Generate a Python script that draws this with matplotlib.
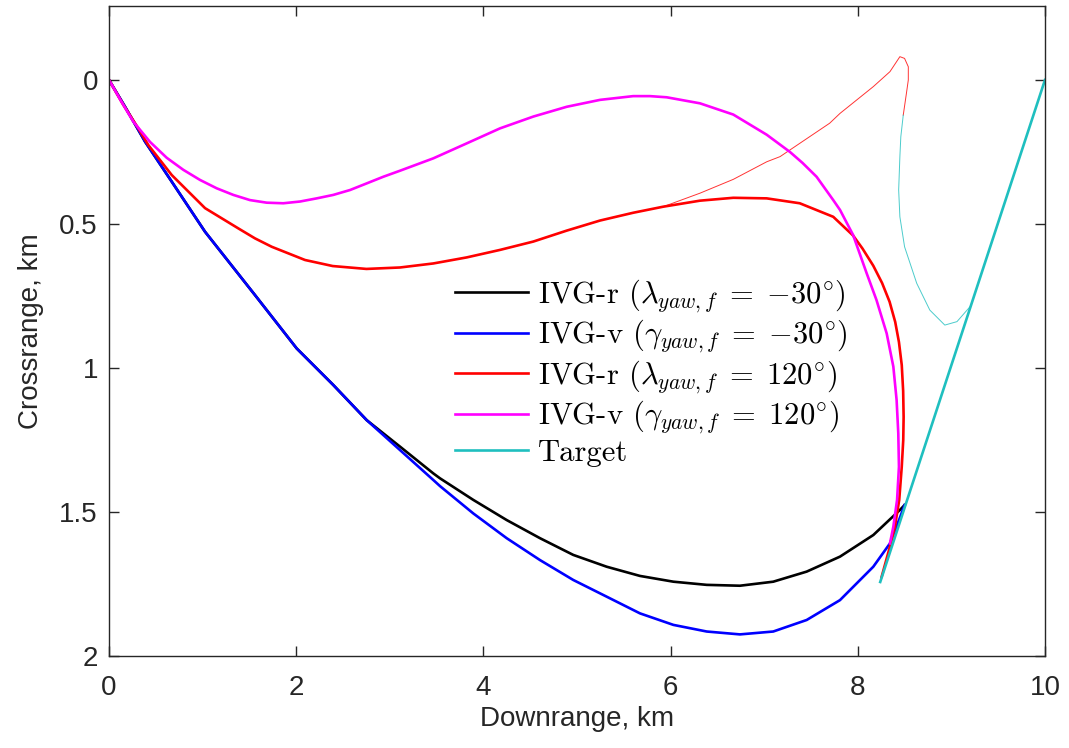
import matplotlib
matplotlib.use("Agg")
import matplotlib.pyplot as plt
from matplotlib.lines import Line2D

# ---- data (km) ----
black_x = [0, 0.171, 0.385, 0.67, 1.026, 1.56, 2.005, 2.396, 2.753, 3.109, 3.465, 3.536,
           3.892, 4.249, 4.605, 4.96, 5.317, 5.673, 6.03, 6.386, 6.741, 7.097, 7.454, 7.81,
           8.166, 8.45, 8.50]
black_y = [0, 0.093, 0.214, 0.353, 0.527, 0.747, 0.932, 1.059, 1.181, 1.273, 1.366, 1.383,
           1.458, 1.528, 1.591, 1.649, 1.69, 1.722, 1.742, 1.753, 1.756, 1.742, 1.707, 1.655,
           1.58, 1.493, 1.476]

blue_x = [0, 0.171, 0.385, 0.67, 1.026, 1.56, 2.005, 2.396, 2.753, 3.109, 3.465, 3.536,
          3.892, 4.249, 4.605, 4.96, 5.317, 5.673, 6.03, 6.386, 6.741, 7.097, 7.454, 7.81,
          8.166, 8.344, 8.45, 8.50]
blue_y = [0, 0.093, 0.214, 0.353, 0.527, 0.747, 0.932, 1.059, 1.181, 1.285, 1.389, 1.41,
          1.505, 1.591, 1.667, 1.736, 1.794, 1.852, 1.892, 1.915, 1.925, 1.915, 1.875, 1.806,
          1.69, 1.609, 1.52, 1.476]

red_x = [0, 0.15, 0.313, 0.42, 0.67, 1.026, 1.38, 1.56, 1.738, 2.094, 2.39, 2.75, 3.109, 3.465,
         3.822, 4.177, 4.533, 4.89, 5.246, 5.60, 5.92, 6.314, 6.67, 7.027, 7.38, 7.738, 7.95,
         8.05, 8.166, 8.26, 8.34, 8.40, 8.44, 8.47, 8.485, 8.49, 8.486, 8.47, 8.443, 8.397,
         8.344, 8.255]
red_y = [0, 0.085, 0.168, 0.226, 0.33, 0.445, 0.515, 0.55, 0.579, 0.625, 0.646, 0.656, 0.651, 0.637,
         0.616, 0.59, 0.561, 0.523, 0.488, 0.461, 0.44, 0.419, 0.409, 0.411, 0.428, 0.475, 0.54,
         0.585, 0.645, 0.705, 0.77, 0.84, 0.91, 0.99, 1.08, 1.17, 1.25, 1.343, 1.458, 1.551,
         1.62, 1.725]

mag_x = [0, 0.13, 0.26, 0.438, 0.616, 0.794, 0.972, 1.15, 1.328, 1.506, 1.685, 1.862, 2.04, 2.219,
         2.396, 2.575, 2.753, 2.93, 3.109, 3.465, 3.822, 4.177, 4.533, 4.89, 5.246, 5.60, 5.78,
         5.958, 6.314, 6.67, 7.027, 7.276, 7.41, 7.56, 7.738, 7.81, 7.95, 8.095, 8.2, 8.309,
         8.38, 8.415, 8.433, 8.44, 8.42, 8.38, 8.344]
mag_y = [0, 0.074, 0.145, 0.215, 0.27, 0.312, 0.347, 0.376, 0.399, 0.417, 0.426, 0.428, 0.422, 0.411,
         0.399, 0.382, 0.359, 0.336, 0.315, 0.272, 0.220, 0.168, 0.127, 0.093, 0.069, 0.056, 0.056,
         0.060, 0.081, 0.12, 0.19, 0.25, 0.288, 0.336, 0.417, 0.451, 0.538, 0.671, 0.764, 0.88,
         0.995, 1.111, 1.227, 1.343, 1.458, 1.551, 1.609]

target_x = [10.0, 8.24]
target_y = [0.0, 1.743]

# thin relative-trajectory segments
thin_red_x = [5.92, 6.314, 6.67, 7.027, 7.17, 7.38, 7.70, 7.81, 7.99, 8.166, 8.344, 8.45, 8.50,
              8.54, 8.54, 8.52, 8.486]
thin_red_y = [0.44, 0.393, 0.345, 0.284, 0.266, 0.22, 0.15, 0.116, 0.069, 0.023, -0.029, -0.081,
              -0.075, -0.046, 0.0, 0.046, 0.122]

thin_cyan_x = [8.486, 8.46, 8.45, 8.437, 8.45, 8.50, 8.63, 8.77, 8.93, 9.06, 9.20]
thin_cyan_y = [0.122, 0.197, 0.266, 0.382, 0.475, 0.579, 0.706, 0.799, 0.851, 0.839, 0.787]

labels = [r"IVG-r $(\lambda_{yaw,f}\;=\;{-30}^{\circ})$",
          r"IVG-v $(\gamma_{yaw,f}\;=\;{-30}^{\circ})$",
          r"IVG-r $(\lambda_{yaw,f}\;=\;120^{\circ})$",
          r"IVG-v $(\gamma_{yaw,f}\;=\;120^{\circ})$",
          "Target"]

CYAN = "#1fbfbf"
plt.rcParams['mathtext.fontset'] = 'cm'

fig = plt.figure(figsize=(10.69, 7.48), dpi=100)
ax = fig.add_axes([0.102, 0.123, 0.8755, 0.869])

lw = 1.9
ax.plot(thin_red_x, thin_red_y, color="#ff0000", lw=0.7, alpha=0.8)
ax.plot(thin_cyan_x, thin_cyan_y, color=CYAN, lw=0.7, alpha=0.8)
ax.plot(black_x, black_y, color="black", lw=lw)
ax.plot(blue_x, blue_y, color="#0000ff", lw=lw)
ax.plot(red_x, red_y, color="#ff0000", lw=lw)
ax.plot(mag_x, mag_y, color="#ff00ff", lw=lw)
ax.plot(target_x, target_y, color=CYAN, lw=lw)

ax.set_xlim(0, 10)
ax.set_ylim(2, -0.257)
ax.set_xticks([0, 2, 4, 6, 8, 10])
ax.set_xticklabels(["0", "2", "4", "6", "8", "10"])
ax.set_yticks([0, 0.5, 1, 1.5, 2])
ax.set_yticklabels(["0", "0.5", "1", "1.5", "2"])

tickfont = "Liberation Sans"
for lab in ax.get_xticklabels() + ax.get_yticklabels():
    lab.set_fontfamily(tickfont)
    lab.set_fontsize(20)
    lab.set_color("#262626")
ax.tick_params(direction="in", length=7, width=1.0, color="#262626",
               top=True, right=True)
ax.tick_params(axis="x", pad=14)
ax.tick_params(axis="y", pad=8)
for s in ax.spines.values():
    s.set_color("#262626")
    s.set_linewidth(1.0)

ax.set_xlabel("Downrange, km", fontfamily=tickfont, fontsize=20, color="#262626", labelpad=3)
ax.set_ylabel("Crossrange, km", fontfamily=tickfont, fontsize=20, color="#262626", labelpad=11)

colors = ["black", "#0000ff", "#ff0000", "#ff00ff", CYAN]
handles = [Line2D([0], [0], color=c, lw=lw) for c in colors]
leg = ax.legend(handles, labels, loc="upper left", bbox_to_anchor=(0.3697, 0.582),
                frameon=False, prop={"family": "cmr10", "size": 22},
                handlelength=2.4, handletextpad=0.3, labelspacing=0.11,
                borderaxespad=0.0, borderpad=0.0)

fig.savefig("out.png", dpi=100)
